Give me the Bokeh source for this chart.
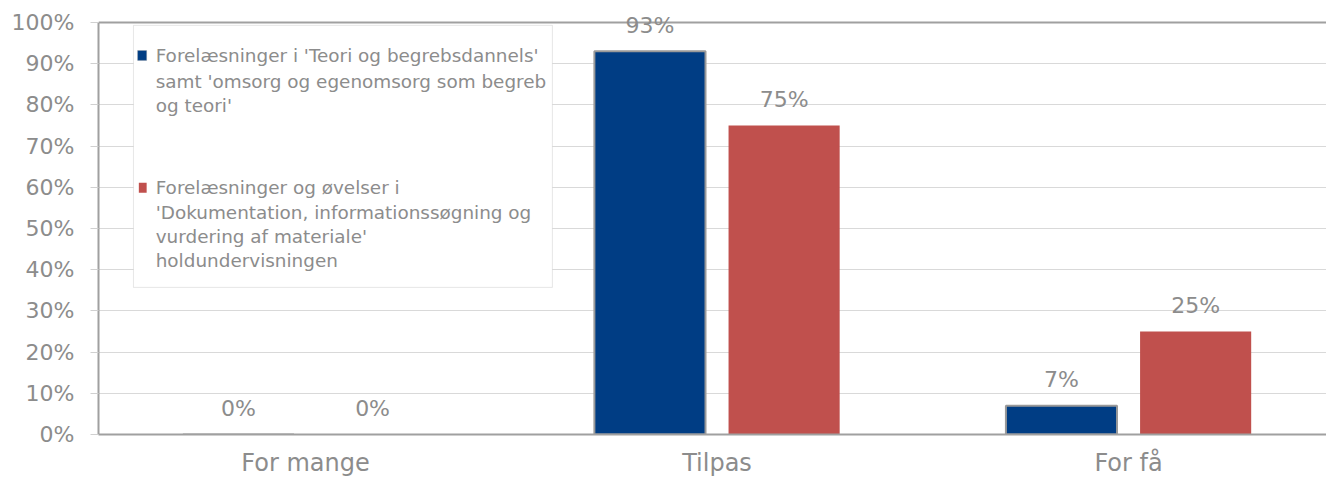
from bokeh.plotting import figure
from bokeh.models import (ColumnDataSource, FixedTicker, PrintfTickFormatter, Span,
                          BoxAnnotation, Label, LabelSet, Range1d)
from bokeh.core.properties import value
from bokeh.embed import file_html
from bokeh.resources import INLINE

categories = ["For mange", "Tilpas", "For få"]
series1_name = ["Forelæsninger i 'Teori og begrebsdannels'",
                "samt 'omsorg og egenomsorg som begreb",
                "og teori'"]
series2_name = ["Forelæsninger og øvelser i",
                "'Dokumentation, informationssøgning og",
                "vurdering af materiale'",
                "holdundervisningen"]
series1 = [0, 93, 7]
series2 = [0, 75, 25]
y_ticks = list(range(0, 101, 10))

FONT = "DejaVu Sans"
TXT = "#8c8c8c"
BLUE = "#003d84"
RED = "#c0504d"
AXIS = "#a0a0a0"

xs = list(range(len(categories)))
dodge = 0.163
bw = 0.27
src1 = ColumnDataSource(dict(x=[x - dodge for x in xs], top=series1,
                             lab=[f"{v}%" for v in series1]))
src2 = ColumnDataSource(dict(x=[x + dodge for x in xs], top=series2,
                             lab=[f"{v}%" for v in series2]))

p = figure(width=1326, height=479, output_backend="svg", toolbar_location=None,
           x_range=Range1d(-0.503, 2.481), y_range=Range1d(0, 102.91),
           min_border_left=98, min_border_right=0, min_border_top=10, min_border_bottom=45)
p.outline_line_color = None
p.background_fill_color = "white"
p.border_fill_color = "white"

p.xgrid.grid_line_color = None
p.ygrid.grid_line_color = "#d9d9d9"
p.ygrid.grid_line_width = 1
p.ygrid.ticker = FixedTicker(ticks=y_ticks)

# top border line of the plot area (at 100%)
p.add_layout(Span(location=100, dimension="width", line_color=AXIS, line_width=2,
                  level="underlay"))

p.vbar(x="x", top="top", width=bw, source=src1, fill_color=BLUE,
       line_color="#999999", line_width=2)
p.vbar(x="x", top="top", width=bw, source=src2, fill_color=RED, line_color=None)

for s in (src1, src2):
    p.add_layout(LabelSet(x="x", y="top", text="lab", source=s, text_align="center",
                          text_baseline="middle", y_offset=26, text_font=value(FONT),
                          text_font_size="22px", text_color=TXT))

# axes
p.yaxis.ticker = FixedTicker(ticks=y_ticks)
p.yaxis.bounds = (0, 100)
p.yaxis.formatter = PrintfTickFormatter(format="%d%%")
p.yaxis.axis_line_color = AXIS
p.yaxis.axis_line_width = 2
p.yaxis.major_tick_line_color = "#d0d0d0"
p.yaxis.major_tick_out = 8
p.yaxis.major_tick_in = 0
p.yaxis.minor_tick_line_color = None
p.yaxis.major_label_standoff = 16
p.yaxis.major_label_text_font = FONT
p.yaxis.major_label_text_font_size = "22px"
p.yaxis.major_label_text_color = TXT

p.xaxis.ticker = FixedTicker(ticks=xs)
p.xaxis.major_label_overrides = {i: c for i, c in enumerate(categories)}
p.xaxis.axis_line_color = AXIS
p.xaxis.axis_line_width = 2
p.xaxis.major_tick_line_color = None
p.xaxis.major_tick_out = 0
p.xaxis.major_tick_in = 0
p.xaxis.minor_tick_line_color = None
p.xaxis.major_label_standoff = 14
p.xaxis.major_label_text_font = FONT
p.xaxis.major_label_text_font_size = "24px"
p.xaxis.major_label_text_color = TXT

# legend (custom)
p.add_layout(BoxAnnotation(left=-0.418, right=0.600, top=99.3, bottom=35.7,
                           fill_color="white", fill_alpha=1.0,
                           line_color="#b0b0b0", line_width=1))
p.add_layout(BoxAnnotation(left=-0.408, right=-0.386, top=93.2, bottom=90.8,
                           fill_color=BLUE, fill_alpha=1.0,
                           line_color="#999999", line_width=1))
p.add_layout(BoxAnnotation(left=-0.405, right=-0.386, top=61.1, bottom=58.7,
                           fill_color=RED, fill_alpha=1.0, line_color=None))
ys1 = [92.0, 85.7, 79.9]
ys2 = [59.95, 53.9, 48.1, 42.2]
for t, yy in list(zip(series1_name, ys1)) + list(zip(series2_name, ys2)):
    p.add_layout(Label(x=-0.364, y=yy, text=t, text_align="left", text_baseline="middle",
                       text_font=FONT, text_font_size="18.4px", text_color=TXT))

open("out.html", "w").write(file_html(p, INLINE))
